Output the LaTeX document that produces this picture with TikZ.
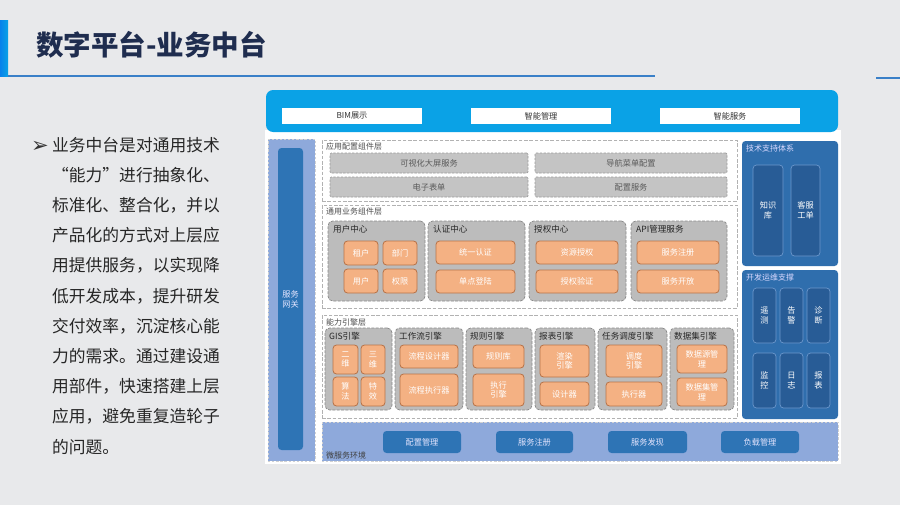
\documentclass[tikz,border=0pt]{standalone}
\usepackage{fontspec}
\setmainfont{Noto Sans CJK SC}
\newfontfamily\symfont{DejaVu Sans}
\definecolor{Bg}{HTML}{E8E9EB}
\definecolor{TopB}{HTML}{0AA2E6}
\definecolor{GrayF}{HTML}{C4C4C4}
\definecolor{GrayD}{HTML}{9A9A9A}
\definecolor{SubF}{HTML}{BCBCBC}
\definecolor{SubD}{HTML}{8A8A8A}
\definecolor{Org}{HTML}{F4B183}
\definecolor{OrgD}{HTML}{B8744A}
\definecolor{RPan}{HTML}{2F6EAD}
\definecolor{RBox}{HTML}{285C96}
\definecolor{RBoxD}{HTML}{6C98CC}
\definecolor{LBlue}{HTML}{8EA9DB}
\definecolor{DBlue}{HTML}{2E74B5}
\definecolor{TitleC}{HTML}{1F2D4F}
\definecolor{LineC}{HTML}{3A80C8}
\newcommand\mybox[7]{\node[#1, minimum width={(#5-#3)*0.03cm}, minimum height={(#6-#4)*0.03cm}] (#2) at ({(#3+#5)/2},{(#4+#6)/2}) {#7};}
\tikzset{
 base/.style={inner sep=0pt, outer sep=0pt, align=center},
 tbox/.style={base, fill=white, font=\fontsize{7}{8}\selectfont, text=black!80},
 gbox/.style={base, fill=GrayF, draw=GrayD, dash pattern=on 2pt off 1.2pt, line width=0.5pt, rounded corners=1pt, font=\fontsize{7}{8}\selectfont, text=black!65},
 layer/.style={base, fill=white, draw=gray!60, line width=0.7pt, dash pattern=on 3pt off 1.5pt},
 sub/.style={base, fill=SubF, draw=SubD, line width=0.6pt, dash pattern=on 2.5pt off 1.2pt, rounded corners=4pt},
 ob/.style={base, fill=Org, draw=OrgD, line width=0.7pt, rounded corners=3pt, text=white, font=\fontsize{7}{8.2}\selectfont},
 lbl/.style={inner sep=0pt, anchor=west, font=\fontsize{6.8}{7.5}\selectfont, text=black!70},
 stitle/.style={inner sep=0pt, anchor=west, font=\fontsize{7.3}{8.5}\selectfont, text=black!85},
 rpanel/.style={base, fill=RPan, rounded corners=3pt},
 rbox/.style={base, fill=RBox, draw=RBoxD, line width=0.6pt, rounded corners=3pt, text=white, font=\fontsize{7}{8.5}\selectfont},
 rlbl/.style={inner sep=0pt, anchor=west, font=\fontsize{6.8}{7.5}\selectfont, text=white!85!blue},
 lpanel/.style={base, fill=LBlue, draw=gray!35, dash pattern=on 2pt off 1.5pt, line width=0.6pt},
 dbtn/.style={base, fill=DBlue, rounded corners=3pt, text=white!90!blue, font=\fontsize{7}{8.5}\selectfont},
 para/.style={inner sep=0pt, anchor=base west, font=\fontsize{14.3}{17}\selectfont, text=black!85},
}
\begin{document}
\begin{tikzpicture}[x=0.03cm, y=-0.03cm]
\useasboundingbox (0,0) rectangle (900,505);
\fill[Bg] (0,0) rectangle (900,505);
% title decoration
\shade[left color=TopB!80!blue, right color=TopB] (0,20) rectangle (8,76);
\draw[LineC, line width=2pt] (8,76) -- (655,76);
\draw[LineC, line width=2pt] (876,78) -- (900,78);
\node[inner sep=0pt, anchor=west, font=\fontsize{23.5}{26}\selectfont\bfseries, text=TitleC] (title) at (36,45) {数字平台-业务中台};
% left paragraph
\node[inner sep=0pt, anchor=base west, font=\symfont\fontsize{18}{20}\selectfont, text=black!80] (bullet) at (31,152) {➢};
\foreach \t [count=\i] in {业务中台是对通用技术,“能力”进行抽象化、,标准化、整合化，并以,产品化的方式对上层应,用提供服务，以实现降,低开发成本，提升研发,交付效率，沉淀核心能,力的需求。通过建设通,用部件，快速搭建上层,应用，避免重复造轮子,的问题。}{
  \node[para] (t\i) at (52,{151+30.2*(\i-1)}) {\t};
}
% diagram background
\mybox{base, fill=white}{diag}{265}{130}{841}{464}{}
\mybox{base, fill=TopB, rounded corners=6pt}{top}{266}{90}{838}{132}{}
\mybox{tbox}{bim}{282}{108}{422}{124}{BIM展示}
\mybox{tbox}{zngl}{471}{108}{611}{124}{智能管理}
\mybox{tbox}{znfw}{660}{108}{800}{124}{智能服务}
% gateway
\mybox{lpanel}{gwp}{268}{139}{315}{461}{}
\mybox{base, fill=DBlue, rounded corners=3pt, text=white!90!blue, font=\fontsize{7}{8.5}\selectfont}{gw}{278}{148}{303}{450}{服务\\网关}
% app config layer
\mybox{layer}{L1}{322}{140}{737}{201}{}
\node[lbl] (L1t) at (326,146.5) {应用配置组件层};
\mybox{gbox}{g1}{330}{153}{528}{173}{可视化大屏服务}
\mybox{gbox}{g2}{535}{153}{727}{173}{导航菜单配置}
\mybox{gbox}{g3}{330}{177}{528}{197}{电子表单}
\mybox{gbox}{g4}{535}{177}{727}{197}{配置服务}
% common business layer
\mybox{layer}{L2}{322}{205}{737}{308}{}
\node[lbl] (L2t) at (326,212) {通用业务组件层};
\mybox{sub}{s1}{328}{221}{425}{301}{}
\mybox{sub}{s2}{428}{221}{525}{301}{}
\mybox{sub}{s3}{529}{221}{626}{301}{}
\mybox{sub}{s4}{631}{221}{727}{301}{}
\node[stitle] (s1t) at (333,229) {用户中心};
\node[stitle] (s2t) at (433,229) {认证中心};
\node[stitle] (s3t) at (534,229) {授权中心};
\node[stitle] (s4t) at (636,229) {API管理服务};
\mybox{ob}{o1}{344}{241}{378}{265}{租户}
\mybox{ob}{o2}{383}{241}{417}{265}{部门}
\mybox{ob}{o3}{344}{269}{378}{293}{用户}
\mybox{ob}{o4}{383}{269}{417}{293}{权限}
\mybox{ob}{o5}{436}{241}{515}{264}{统一认证}
\mybox{ob}{o6}{436}{270}{515}{293}{单点登陆}
\mybox{ob}{o7}{536}{241}{618}{264}{资源授权}
\mybox{ob}{o8}{536}{270}{618}{293}{授权验证}
\mybox{ob}{o9}{637}{241}{719}{264}{服务注册}
\mybox{ob}{o10}{637}{270}{719}{293}{服务开放}
% capability engine layer
\mybox{layer}{L3}{322}{315}{737}{418}{}
\node[lbl] (L3t) at (326,322) {能力引擎层};
\mybox{sub}{e1}{325}{328}{392}{410}{}
\mybox{sub}{e2}{395}{328}{463}{410}{}
\mybox{sub}{e3}{466}{328}{532}{410}{}
\mybox{sub}{e4}{535}{328}{595}{410}{}
\mybox{sub}{e5}{598}{328}{667}{410}{}
\mybox{sub}{e6}{670}{328}{734}{410}{}
\node[stitle] (e1t) at (329,336) {GIS引擎};
\node[stitle] (e2t) at (399,336) {工作流引擎};
\node[stitle] (e3t) at (470,336) {规则引擎};
\node[stitle] (e4t) at (539,336) {报表引擎};
\node[stitle] (e5t) at (602,336) {任务调度引擎};
\node[stitle] (e6t) at (674,336) {数据集引擎};
\mybox{ob}{c1}{333}{345}{358}{374}{二\\维}
\mybox{ob}{c2}{361}{345}{385}{374}{三\\维}
\mybox{ob}{c3}{333}{377}{358}{406}{算\\法}
\mybox{ob}{c4}{361}{377}{385}{406}{特\\效}
\mybox{ob}{c5}{400}{345}{458}{368}{流程设计器}
\mybox{ob}{c6}{400}{374}{458}{406}{流程执行器}
\mybox{ob}{c7}{473}{345}{524}{368}{规则库}
\mybox{ob}{c8}{473}{374}{524}{406}{执行\\引擎}
\mybox{ob}{c9}{540}{345}{589}{377}{渲染\\引擎}
\mybox{ob}{c10}{540}{382}{589}{406}{设计器}
\mybox{ob}{c11}{606}{345}{662}{377}{调度\\引擎}
\mybox{ob}{c12}{606}{382}{662}{406}{执行器}
\mybox{ob}{c13}{677}{345}{727}{373}{数据源管\\理}
\mybox{ob}{c14}{677}{378}{727}{406}{数据集管\\理}
% micro service env
\mybox{lpanel}{ms}{322}{422}{838}{461}{}
\node[inner sep=0pt, anchor=west, font=\fontsize{6.8}{7.5}\selectfont, text=black!75] (mst) at (326,455) {微服务环境};
\mybox{dbtn}{m1}{383}{431}{461}{453}{配置管理}
\mybox{dbtn}{m2}{496}{431}{573}{453}{服务注册}
\mybox{dbtn}{m3}{608}{431}{687}{453}{服务发现}
\mybox{dbtn}{m4}{721}{431}{799}{453}{负载管理}
% right panels
\mybox{rpanel}{R1}{742}{141}{838}{266}{}
\node[rlbl] (R1t) at (746,148) {技术支持体系};
\mybox{rbox}{r1}{753}{165}{783}{256}{知识\\库}
\mybox{rbox}{r2}{791}{165}{820}{256}{客服\\工单}
\mybox{rpanel}{R2}{742}{270}{838}{419}{}
\node[rlbl] (R2t) at (746,277) {开发运维支撑};
\mybox{rbox}{r3}{753}{288}{776}{343}{遥\\测}
\mybox{rbox}{r4}{780}{288}{803}{343}{告\\警}
\mybox{rbox}{r5}{807}{288}{830}{343}{诊\\断}
\mybox{rbox}{r6}{753}{353}{776}{408}{监\\控}
\mybox{rbox}{r7}{780}{353}{803}{408}{日\\志}
\mybox{rbox}{r8}{807}{353}{830}{408}{报\\表}
\end{tikzpicture}
\end{document}
